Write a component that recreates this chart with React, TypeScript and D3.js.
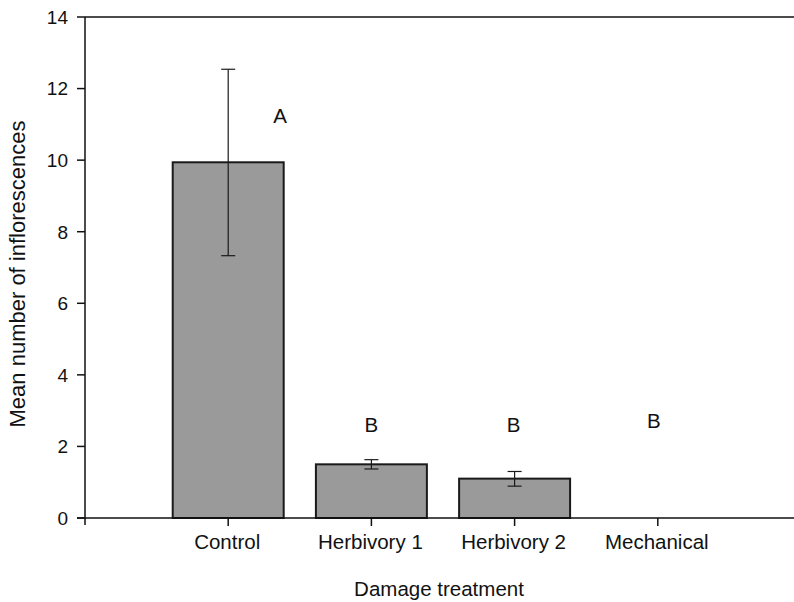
import React from "react";
import * as d3 from "d3";

// data
const categories = ["Control", "Herbivory 1", "Herbivory 2", "Mechanical"];
const means = [9.94, 1.5, 1.1, 0];
const errLow = [7.33, 1.37, 0.89, 0];
const errHigh = [12.54, 1.63, 1.3, 0];
const letters = ["A", "B", "B", "B"];
const letterY = [11.03, 2.41, 2.41, 2.52];
const yTicks = [0, 2, 4, 6, 8, 10, 12, 14];

const W = 794;
const H = 602;
const left = 85;
const top = 17;
const bottom = 518;
const slot = 143.2;
const font = "'Liberation Sans', Arial, Helvetica, sans-serif";

export default function App() {
  // slots 0..5, categories sit on 1..4
  const x = d3.scaleLinear().domain([0, 5]).range([left, left + slot * 5]);
  const y = d3.scaleLinear().domain([0, 14]).range([bottom, top]);
  const barW = slot * 0.775;
  const cap = 7;
  const letterOffset = [52, 0, -1, -4];

  return (
    <svg
      width={W}
      height={H}
      style={{ position: "absolute", left: 0, top: 0, background: "#fff" }}
      fontFamily={font}
    >
      {/* bars */}
      {means.map((m, i) =>
        m > 0 ? (
          <rect
            key={"b" + i}
            x={x(i + 1) - barW / 2}
            y={y(m)}
            width={barW}
            height={y(0) - y(m)}
            fill="#9a9a9a"
            stroke="#1a1a1a"
            strokeWidth={2}
          />
        ) : null
      )}
      {/* error bars */}
      {means.map((m, i) =>
        errHigh[i] > errLow[i] ? (
          <g key={"e" + i} stroke="#1a1a1a" strokeWidth={1.2}>
            <line x1={x(i + 1)} x2={x(i + 1)} y1={y(errLow[i])} y2={y(errHigh[i])} />
            <line x1={x(i + 1) - cap} x2={x(i + 1) + cap} y1={y(errLow[i])} y2={y(errLow[i])} />
            <line x1={x(i + 1) - cap} x2={x(i + 1) + cap} y1={y(errHigh[i])} y2={y(errHigh[i])} />
          </g>
        ) : null
      )}

      {/* frame: top, left, bottom */}
      <g stroke="#111" strokeWidth={1.5} fill="none">
        <line x1={left} x2={x(5)} y1={top} y2={top} />
        <line x1={left} x2={left} y1={top} y2={bottom + 7} />
        <line x1={left - 8} x2={x(5)} y1={bottom} y2={bottom} />
      </g>

      {/* y ticks */}
      {yTicks.map((t) => (
        <g key={"yt" + t}>
          <line x1={left - 8} x2={left} y1={y(t)} y2={y(t)} stroke="#111" strokeWidth={1.5} />
          <text
            x={left - 17}
            y={y(t)}
            dy="0.36em"
            textAnchor="end"
            fontSize={19}
            fill="#111"
          >
            {t}
          </text>
        </g>
      ))}

      {/* x ticks + labels */}
      {categories.map((c, i) => (
        <g key={"xt" + i}>
          <line x1={x(i + 1)} x2={x(i + 1)} y1={bottom} y2={bottom + 8} stroke="#111" strokeWidth={1.5} />
          <text x={x(i + 1) - 1} y={549} textAnchor="middle" fontSize={20.5} fill="#111">
            {c}
          </text>
        </g>
      ))}

      {/* significance letters */}
      {letters.map((l, i) => (
        <text
          key={"l" + i}
          x={x(i + 1) + letterOffset[i]}
          y={y(letterY[i])}
          textAnchor="middle"
          fontSize={20.5}
          fill="#111"
        >
          {l}
        </text>
      ))}

      {/* axis titles */}
      <text x={439} y={596} textAnchor="middle" fontSize={20.5} fill="#111">
        Damage treatment
      </text>
      <text
        transform={`translate(25, 274) rotate(-90)`}
        textAnchor="middle"
        fontSize={22}
        fill="#111"
      >
        Mean number of inflorescences
      </text>
    </svg>
  );
}
